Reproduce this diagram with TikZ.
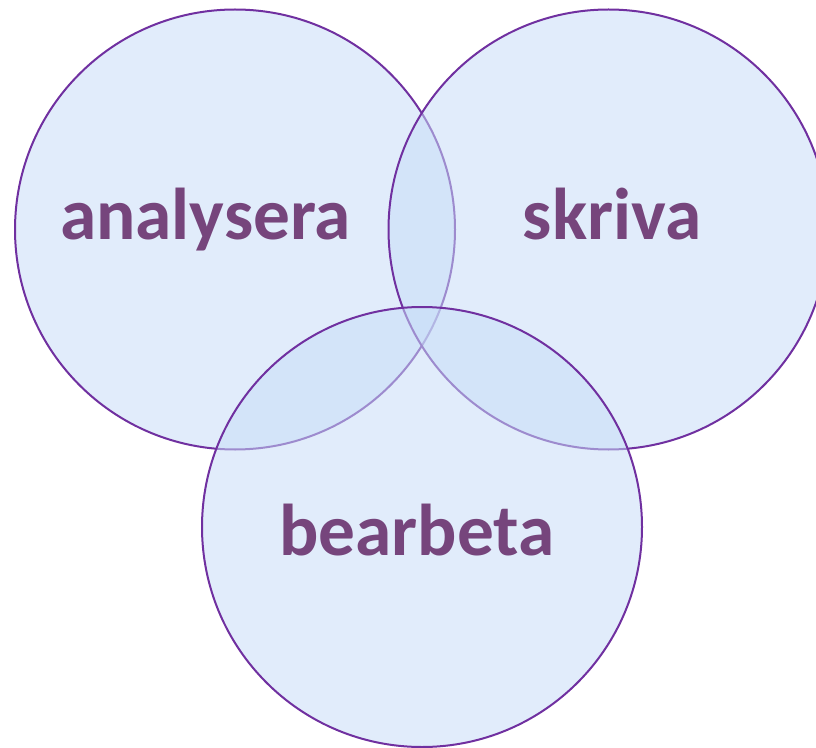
\documentclass[tikz,border=0pt]{standalone}
\usepackage{fontspec}
\setmainfont{Carlito}
\usetikzlibrary{positioning}
\definecolor{ringline}{HTML}{7030A0}
\definecolor{ringfill}{HTML}{C6DCF7}
\definecolor{wordcol}{HTML}{76457C}
\tikzset{ring/.style={circle, draw=ringline, line width=1.5pt, fill=ringfill, fill opacity=0.53, inner sep=0pt, minimum size=330pt}}
\tikzset{word/.style={anchor=base, text=wordcol, font=\fontsize{55}{66}\selectfont\bfseries, inner sep=0pt}}

\begin{document}
\begin{tikzpicture}[x=0.75pt, y=-0.75pt]
			\useasboundingbox (0,0) rectangle (816,748);
			\node[ring] (ana) at (235,229.5) {};
			\node[ring] (skr) at (608.5,229.5) {};
			\node[ring] (bea) at (422,527) {};
			%
			\node[word] (tana) at (205.5,240) {analysera};
			\node[word] (tskr) at (612,240) {skriva};
			\node[word] (tbea) at (417,555) {bearbeta};
\end{tikzpicture}
\end{document}
